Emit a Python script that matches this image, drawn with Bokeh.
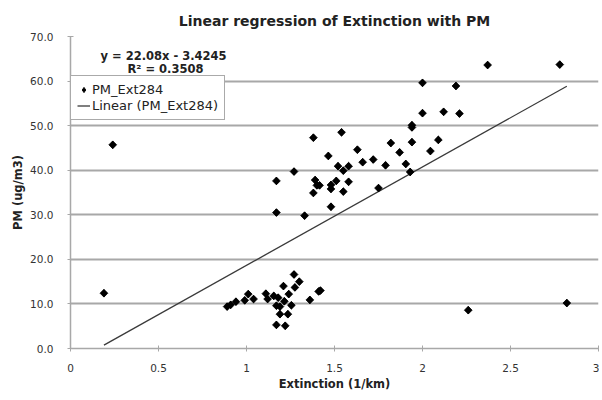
import math
from bokeh.plotting import figure
from bokeh.models import Range1d, Label, Legend, LegendItem, FixedTicker, NumeralTickFormatter, CustomJSTickFormatter
from bokeh.embed import file_html
from bokeh.resources import INLINE

# Data
extinction = [0.19, 0.24,
              0.89, 0.91, 0.94, 0.99, 1.01, 1.04, 1.11, 1.12, 1.155, 1.18, 1.17, 1.19,
              1.215, 1.24, 1.255, 1.21, 1.275, 1.30, 1.27, 1.19, 1.235, 1.17, 1.22,
              1.36, 1.41, 1.42, 2.26, 2.82,
              1.17, 1.17, 1.27, 1.33, 1.38, 1.39, 1.40, 1.415, 1.38, 1.465, 1.48, 1.48,
              1.48, 1.51, 1.54, 1.52, 1.55, 1.58, 1.55, 1.58, 1.63, 1.66, 1.72, 1.75,
              1.79, 1.82, 1.87, 1.905, 1.93, 1.94, 1.94, 1.94, 2.0, 2.0, 2.045, 2.09,
              2.12, 2.19, 2.21, 2.37, 2.78]
pm = [12.4, 45.7,
      9.4, 9.8, 10.5, 10.8, 12.2, 11.1, 12.3, 11.1, 11.8, 11.4, 9.6, 9.4,
      10.6, 12.2, 9.7, 14.0, 13.7, 15.0, 16.6, 7.7, 7.7, 5.3, 5.1,
      10.9, 12.8, 13.0, 8.6, 10.2,
      37.6, 30.5, 39.7, 29.8, 47.3, 37.8, 36.6, 36.6, 34.9, 43.2, 36.7, 35.8,
      31.8, 37.6, 48.5, 40.9, 39.9, 40.9, 35.2, 37.4, 44.6, 41.8, 42.4, 36.0,
      41.1, 46.1, 44.0, 41.4, 39.6, 49.6, 50.1, 46.3, 52.8, 59.6, 44.3, 46.8,
      53.1, 58.9, 52.7, 63.6, 63.7]
slope = 22.08
intercept = -3.4245
r_squared = 0.3508
x_ticks = [0, 0.5, 1, 1.5, 2, 2.5, 3]
y_ticks = [0, 10, 20, 30, 40, 50, 60, 70]

font = "DejaVu Sans"
grey = "#a8a8a8"

p = figure(width=599, height=393, output_backend="svg", toolbar_location=None,
           x_range=Range1d(0, 3), y_range=Range1d(0, 70),
           min_border_left=70, min_border_right=1, min_border_top=36, min_border_bottom=41)
p.outline_line_color = None
p.background_fill_color = "white"

# Title
p.title.text = "Linear regression of Extinction with PM"
p.title.align = "center"
p.title.text_font = font
p.title.text_font_size = "14px"
p.title.text_font_style = "bold"
p.title.text_color = "#222222"
p.title.offset = 0
p.title.standoff = 15

# Axes
for ax in (p.xaxis[0], p.yaxis[0]):
    ax.axis_line_color = grey
    ax.axis_line_width = 1.5
    ax.major_tick_line_color = grey
    ax.major_tick_in = 3
    ax.major_tick_out = 3
    ax.minor_tick_line_color = None
    ax.major_label_text_font = font
    ax.major_label_text_font_size = "10.5px"
    ax.major_label_text_color = "#333333"
    ax.axis_label_text_font = font
    ax.axis_label_text_font_size = "11.5px"
    ax.axis_label_text_font_style = "bold"
    ax.axis_label_text_color = "#222222"

p.xaxis.ticker = FixedTicker(ticks=x_ticks)
p.xaxis.formatter = CustomJSTickFormatter(code="return String(tick);")
p.xaxis.axis_label = "Extinction (1/km)"
p.xaxis.major_label_standoff = 12
p.xaxis.axis_label_standoff = 2

p.yaxis.ticker = FixedTicker(ticks=y_ticks)
p.yaxis.formatter = NumeralTickFormatter(format="0.0")
p.yaxis.axis_label = "PM (ug/m3)"
p.yaxis.major_label_standoff = 14
p.yaxis.axis_label_standoff = 2

p.xgrid.grid_line_color = None
p.ygrid.grid_line_color = grey
p.ygrid.grid_line_width = 1.8

# Trend line over data extent
x0, x1 = min(extinction), max(extinction)
trend = p.line([x0, x1], [slope * x0 + intercept, slope * x1 + intercept],
               line_color="#3a3a3a", line_width=1.3)

# diamond underneath (used as legend swatch), rotated square on top
swatch = p.scatter(extinction, pm, marker="diamond", size=7,
                   fill_color="black", line_color="black")
pts = p.scatter(extinction, pm, marker="square", angle=math.pi / 4, size=5.5,
                fill_color="black", line_color="black", line_width=0.8)

legend = Legend(items=[LegendItem(label="PM_Ext284", renderers=[swatch]),
                       LegendItem(label="Linear (PM_Ext284)", renderers=[trend])],
                location=(0, 228), margin=0, padding=6, spacing=1,
                glyph_width=13, glyph_height=15, label_height=15,
                label_standoff=2,
                label_text_font=font, label_text_font_size="13px",
                label_text_color="#222222",
                border_line_color="#555555", border_line_width=1,
                background_fill_color="white", background_fill_alpha=1)
p.add_layout(legend, "center")

eq = Label(x=30, y=286, x_units="screen", y_units="screen",
           text="y = 22.08x - 3.4245", text_font=font, text_font_size="11.5px",
           text_font_style="bold", text_color="#222222")
r2 = Label(x=57, y=273, x_units="screen", y_units="screen",
           text="R\u00b2 = %.4f" % r_squared, text_font=font, text_font_size="11.5px",
           text_font_style="bold", text_color="#222222")
p.add_layout(eq)
p.add_layout(r2)

open("out.html", "w").write(file_html(p, INLINE))
